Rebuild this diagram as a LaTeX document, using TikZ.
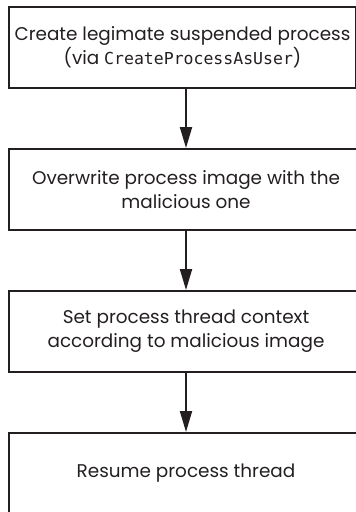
\documentclass[tikz,border=0pt]{standalone}
\usepackage{fontspec}
\setmainfont{Poppins}
\setmonofont{DejaVu Sans Mono}
\usetikzlibrary{arrows.meta}
\definecolor{inkgray}{HTML}{231F20}
\tikzset{
  stepbox/.style={draw=inkgray,line width=2pt,anchor=north west,align=center,
    inner sep=0pt,minimum height=81pt,font=\fontsize{18.4}{24}\selectfont,text=inkgray},
  flow/.style={draw=inkgray,line width=2pt,-{Triangle[length=21pt,width=12pt]}}
}
\begin{document}
\begin{tikzpicture}[x=1pt,y=1pt,line cap=butt,line join=miter]
  \useasboundingbox (0,0) rectangle (356,-512);
  \clip (0,0) rectangle (356,-512);
  \node[stepbox,minimum width=347pt] (create) at (8,-6)
    {Create legimate suspended process\\(via {\fontsize{16.5}{24}\ttfamily CreateProcessAsUser})};
  \node[stepbox,minimum width=354pt] (overwrite) at (8,-148)
    {Overwrite process image with the\\malicious one};
  \node[stepbox,minimum width=354pt] (context) at (8,-290)
    {Set process thread context\\according to malicious image};
  \node[stepbox,minimum width=354pt] (resume) at (8,-432)
    {Resume process thread};
  \draw[flow] (overwrite.north |- create.south) -- (overwrite.north);
  \draw[flow] (overwrite.south) -- (context.north);
  \draw[flow] (context.south) -- (resume.north);
\end{tikzpicture}
\end{document}
